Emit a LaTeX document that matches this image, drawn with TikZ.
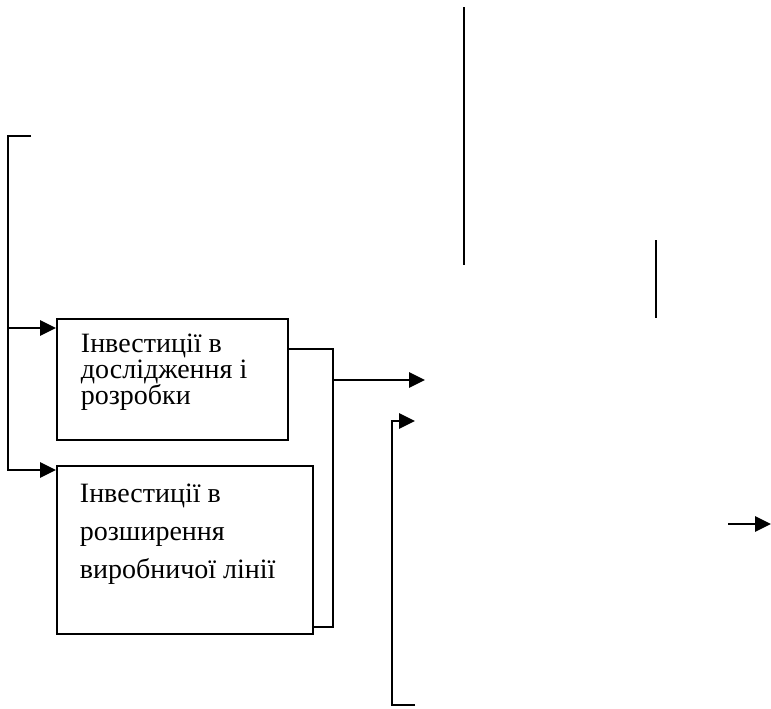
\documentclass[tikz,border=0pt]{standalone}
\usepackage{fontspec}
\setmainfont{Liberation Serif}
\usepackage{tikz}
\usetikzlibrary{calc}
\usetikzlibrary{arrows.meta}

\begin{document}
\begin{tikzpicture}[x=0.75pt,y=-0.75pt,line width=1.4pt,
  >={Triangle[length=12pt,width=11.5pt]},
  invbox/.style={draw,anchor=north west,inner sep=0pt}]
\useasboundingbox (0,0) rectangle (771,708);

\node[invbox,inner xsep=18pt,inner ysep=11pt] (R) at (56,318)
  {\parbox[t][68.75pt][t]{137.25pt}{\fontsize{21}{19.5}\selectfont
   Інвестиції в\\ дослідження і\\ розробки}};
\node[invbox,inner xsep=17.25pt,inner ysep=13.5pt] (S) at (56,465)
  {\parbox[t][99pt][t]{157.5pt}{\fontsize{21}{28.5}\selectfont
   Інвестиції в\\ розширення\\ виробничої лінії}};

\coordinate (A) at (31,136);
\coordinate (B) at (8,136);
\coordinate (C) at (8,470);
\coordinate (D) at (8,328);
\coordinate (E) at (333,349);
\coordinate (F) at (333,627);
\coordinate (G) at (333,380);
\coordinate (H) at (425,380);
\coordinate (I) at (415,705);
\coordinate (J) at (392,705);
\coordinate (K) at (392,421);
\coordinate (L) at (415,421);
\coordinate (M) at (464,7);
\coordinate (N) at (464,265);
\coordinate (O) at (656,240);
\coordinate (P) at (656,318);
\coordinate (Q) at (728,524);
\coordinate (T) at (771,524);

  \draw[->] (A) -- (B) -- (C) -- (C -| S.west);
  \draw[->] (D) -- (D -| R.west);
  \draw (E -| R.east) -- (E) -- (F) -- (F -| S.east);
  \draw[->] (G) -- (H);
  \draw[->] (I) -- (J) -- (K) -- (L);

   %\draw (M) -- (M -| O);
   \draw (M) -- (N);
   \draw (O) -- (P);
   \draw[->] (Q) -- (T);
\end{tikzpicture}
\end{document}
